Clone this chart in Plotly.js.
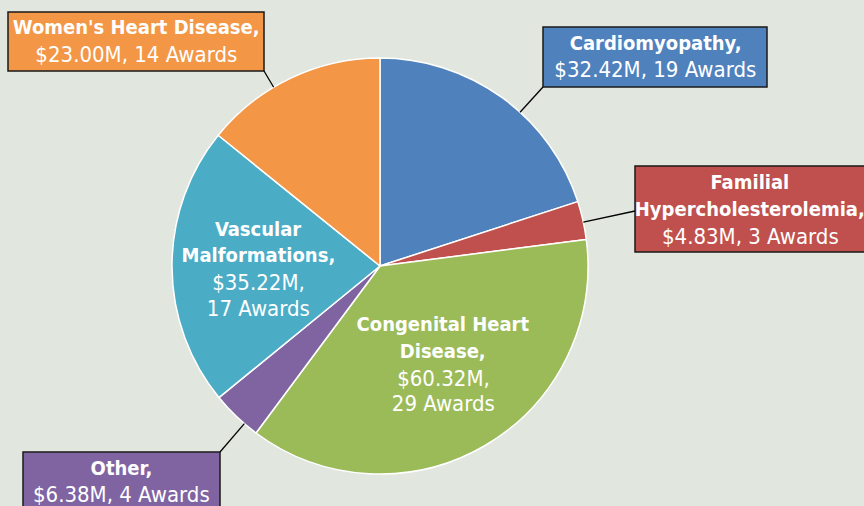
<!DOCTYPE html>
<html><head><meta charset="utf-8">
<script src="https://cdn.plot.ly/plotly-3.0.1.min.js"></script>
<style>html,body{margin:0;padding:0;background:#E1E6DF;}#chart{width:864px;height:506px;}
#chart text{font-stretch:condensed !important;}</style>
</head><body><div id="chart"></div>
<script>
const categories = ["Cardiomyopathy", "Familial Hypercholesterolemia", "Congenital Heart Disease", "Other", "Vascular Malformations", "Women's Heart Disease"];
const funding = [32.42, 4.83, 60.32, 6.38, 35.22, 23.00];
const awards = [19, 3, 29, 4, 17, 14];
const colors = ["#4F81BD", "#C0504D", "#9BBB59", "#8064A2", "#4BACC6", "#F39646"];

const W = 864, H = 506;
const FONT = "'DejaVu Sans', sans-serif";
const FS_BOLD = 20, FS_REG = 22;
const cx = 380, cy = 266, R = 208;
const px = x => x / W, py = y => 1 - y / H;

// label layout (pixels): box, text centre, bold title lines, attach point of leader line
const labelLayout = [
  {box:[543,27,767,87], tx:655, ty:[43,70], title:["Cardiomyopathy,"], attach:[543,87]},
  {box:[635,166,880,252], tx:750, ty:[182,209,236], title:["Familial","Hypercholesterolemia,"], attach:[635,211]},
  {inside:true, tx:443, ty:[324,351,378,403], title:["Congenital Heart","Disease,"]},
  {box:[23,452,220,520], tx:121, ty:[468,494], title:["Other,"], attach:[220,452]},
  {inside:true, tx:258, ty:[229,255,282,308], title:["Vascular","Malformations,"]},
  {box:[8,12,264,71], tx:136, ty:[27,54], title:["Women's Heart Disease,"], attach:[264,71]}
];

const total = funding.reduce((a,b)=>a+b,0);
const shapes = [], annotations = [];
let cum = 0;
funding.forEach((v,i)=>{
  const a0 = cum / total * 2*Math.PI; cum += v;
  const a1 = cum / total * 2*Math.PI;
  const L = labelLayout[i];
  const money = "$" + v.toFixed(2) + "M,";
  const reg = L.inside ? [money, awards[i] + " Awards"] : [money + " " + awards[i] + " Awards"];
  const lines = L.title.map(t=>({t:"<b>"+t+"</b>", s:FS_BOLD})).concat(reg.map(t=>({t:t, s:FS_REG})));
  if (!L.inside) {
    shapes.push({type:"rect", xref:"paper", yref:"paper", x0:px(L.box[0]), x1:px(L.box[2]), y0:py(L.box[1]), y1:py(L.box[3]),
      fillcolor:colors[i], line:{color:"#1a1a1a", width:1.5}, layer:"above"});
    // leader line runs radially from the box toward the centre, ending on the slice's rim
    let ang = Math.atan2(L.attach[0]-cx, cy-L.attach[1]);
    if (ang < 0) ang += 2*Math.PI;
    const pad = (a1-a0)*0.1;
    ang = Math.min(Math.max(ang, a0+pad), a1-pad);
    const ex = cx + R*Math.sin(ang), ey = cy - R*Math.cos(ang);
    shapes.push({type:"line", xref:"paper", yref:"paper", x0:px(L.attach[0]), y0:py(L.attach[1]), x1:px(ex), y1:py(ey),
      line:{color:"#000", width:1.3}, layer:"above"});
  }
  lines.forEach((ln,k)=>{
    annotations.push({xref:"paper", yref:"paper", x:px(L.tx), y:py(L.ty[k]), xanchor:"center", yanchor:"middle",
      text:ln.t, showarrow:false, font:{family:FONT, size:ln.s, color:"#ffffff"}});
  });
});

const data = [{
  type:"pie", labels:categories, values:funding, sort:false, direction:"clockwise", rotation:0,
  marker:{colors:colors, line:{color:"#ffffff", width:1.5}},
  textinfo:"none", hoverinfo:"label+value", showlegend:false,
  domain:{x:[(cx-R)/W,(cx+R)/W], y:[(H-cy-R)/H,(H-cy+R)/H]}
}];
const layout = {
  width:W, height:H, margin:{l:0,r:0,t:0,b:0},
  paper_bgcolor:"#E1E6DF", plot_bgcolor:"#E1E6DF",
  shapes:shapes, annotations:annotations, showlegend:false
};
Plotly.newPlot("chart", data, layout, {staticPlot:true});
</script></body></html>
